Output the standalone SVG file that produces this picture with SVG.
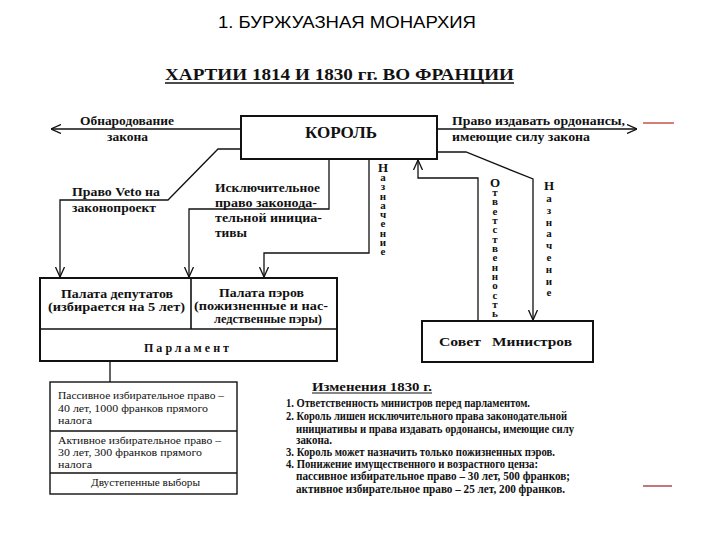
<svg xmlns="http://www.w3.org/2000/svg" width="720" height="540" viewBox="0 0 720 540">
<style>
.ln{fill:none;stroke:#111;stroke-width:1.3}
.bx{fill:#fff;stroke:#111;stroke-width:2}
.b{font-family:"Liberation Serif",serif;font-weight:bold;fill:#111}
.r{font-family:"Liberation Serif",serif;fill:#111}
.v{font-family:"Liberation Serif",serif;font-weight:bold;font-size:11px;fill:#111;text-anchor:middle}
</style>
<defs>
<marker id="ah" viewBox="0 0 10 10" refX="10" refY="5" markerWidth="10" markerHeight="10" markerUnits="userSpaceOnUse" orient="auto">
<polyline points="0,0.5 10,5 0,9.5" fill="none" stroke="#111" stroke-width="1.3"/>
</marker>
</defs>
<rect width="720" height="540" fill="#fff"/>
<text x="218" y="28" font-family="Liberation Sans, Arial, sans-serif" font-size="17" fill="#000" textLength="258" lengthAdjust="spacingAndGlyphs">1. БУРЖУАЗНАЯ МОНАРХИЯ</text>
<text class="b" x="165" y="80" font-size="17" textLength="349" lengthAdjust="spacingAndGlyphs">ХАРТИИ 1814 И 1830 гг. ВО ФРАНЦИИ</text>
<line x1="165" y1="83" x2="514" y2="83" stroke="#111" stroke-width="1.5"/>

<g id="connectors">
<line class="ln" x1="241" y1="129" x2="51" y2="129" marker-end="url(#ah)"/>
<line class="ln" x1="437" y1="129" x2="637" y2="129" marker-end="url(#ah)"/>
<polyline class="ln" points="241,149 218,149 168,200 60,200 60,277" marker-end="url(#ah)"/>
<polyline class="ln" points="329,159 329,209 189,209 189,277" marker-end="url(#ah)"/>
<polyline class="ln" points="369,159 369,253 264,253 264,277" marker-end="url(#ah)"/>
<polyline class="ln" points="437,152 466,152 533,179 533,320" marker-end="url(#ah)"/>
<polyline class="ln" points="478,321 478,178 418,178 418,160" marker-end="url(#ah)"/>
<line class="ln" x1="110" y1="382" x2="110" y2="330" marker-end="url(#ah)"/>
<line x1="643" y1="123" x2="674" y2="123" stroke="#c0392b" stroke-width="1.3"/>
<line x1="643" y1="486" x2="672" y2="486" stroke="#b5555a" stroke-width="1.6"/>
</g>

<g id="labels">
<text class="b" x="80" y="125" font-size="12" textLength="94" lengthAdjust="spacingAndGlyphs">Обнародование</text>
<text class="b" x="107" y="141" font-size="12" textLength="41" lengthAdjust="spacingAndGlyphs">закона</text>
<text class="b" x="452" y="125" font-size="12" textLength="173" lengthAdjust="spacingAndGlyphs">Право издавать ордонансы,</text>
<text class="b" x="452" y="141" font-size="12" textLength="138" lengthAdjust="spacingAndGlyphs">имеющие силу закона</text>
<text class="b" x="72" y="196" font-size="12" textLength="88" lengthAdjust="spacingAndGlyphs">Право Veto на</text>
<text class="b" x="72" y="212" font-size="12" textLength="84" lengthAdjust="spacingAndGlyphs">законопроект</text>
<text class="b" x="215" y="192" font-size="12" textLength="105" lengthAdjust="spacingAndGlyphs">Исключительное</text>
<text class="b" x="215" y="207" font-size="12" textLength="102" lengthAdjust="spacingAndGlyphs">право законода-</text>
<text class="b" x="215" y="222" font-size="12" textLength="107" lengthAdjust="spacingAndGlyphs">тельной инициа-</text>
<text class="b" x="215" y="237" font-size="12" textLength="32" lengthAdjust="spacingAndGlyphs">тивы</text>
<text class="v"><tspan x="383" y="172" font-size="13">Н</tspan><tspan x="383" y="181">а</tspan><tspan x="383" y="190">з</tspan><tspan x="383" y="200">н</tspan><tspan x="383" y="209">а</tspan><tspan x="383" y="218">ч</tspan><tspan x="383" y="227">е</tspan><tspan x="383" y="237">н</tspan><tspan x="383" y="246">и</tspan><tspan x="383" y="255">е</tspan></text>
<text class="v"><tspan x="495" y="187" font-size="13">О</tspan><tspan x="495" y="196">т</tspan><tspan x="495" y="205">в</tspan><tspan x="495" y="215">е</tspan><tspan x="495" y="224">т</tspan><tspan x="495" y="233">с</tspan><tspan x="495" y="243">т</tspan><tspan x="495" y="252">в</tspan><tspan x="495" y="261">е</tspan><tspan x="495" y="271">н</tspan><tspan x="495" y="280">н</tspan><tspan x="495" y="289">о</tspan><tspan x="495" y="299">с</tspan><tspan x="495" y="308">т</tspan><tspan x="495" y="317">ь</tspan></text>
<text class="v"><tspan x="549" y="190" font-size="13">Н</tspan><tspan x="549" y="202">а</tspan><tspan x="549" y="214">з</tspan><tspan x="549" y="226">н</tspan><tspan x="549" y="237">а</tspan><tspan x="549" y="249">ч</tspan><tspan x="549" y="261">е</tspan><tspan x="549" y="273">н</tspan><tspan x="549" y="285">и</tspan><tspan x="549" y="296">е</tspan></text>
</g>

<g id="king">
<rect class="bx" x="241" y="116" width="196" height="43"/>
<text class="b" x="305" y="138" font-size="16" textLength="72" lengthAdjust="spacingAndGlyphs">КОРОЛЬ</text>
</g>

<g id="parliament">
<rect class="bx" x="40" y="278" width="297" height="83" stroke-width="1.6"/>
<line x1="40" y1="329" x2="337" y2="329" stroke="#111" stroke-width="1.6"/>
<line x1="191" y1="278" x2="191" y2="329" stroke="#111" stroke-width="1.6"/>
<text class="b" x="144" y="352" font-size="12" textLength="85" lengthAdjust="spacing">Парламент</text>
</g>
<g id="deputies">
<text class="r" x="61" y="298" font-size="12.5" font-weight="bold" textLength="112" lengthAdjust="spacingAndGlyphs">Палата депутатов</text>
<text class="r" x="48" y="311" font-size="12.5" font-weight="bold" textLength="137" lengthAdjust="spacingAndGlyphs">(избирается на 5 лет)</text>
</g>
<g id="peers">
<text class="r" x="219" y="297" font-size="12.5" font-weight="bold" textLength="85" lengthAdjust="spacingAndGlyphs">Палата пэров</text>
<text class="r" x="194" y="310" font-size="12.5" font-weight="bold" textLength="134" lengthAdjust="spacingAndGlyphs">(пожизненные и нас-</text>
<text class="r" x="214" y="323" font-size="12.5" font-weight="bold" textLength="108" lengthAdjust="spacingAndGlyphs">ледственные пэры)</text>
</g>

<g id="ministers">
<rect class="bx" x="422" y="321" width="171" height="41" stroke-width="1.6"/>
<text class="b" x="439" y="346" font-size="12.5" textLength="42" lengthAdjust="spacingAndGlyphs">Совет</text>
<text class="b" x="492" y="346" font-size="12.5" textLength="80" lengthAdjust="spacingAndGlyphs">Министров</text>
</g>

<g id="electoral">
<rect x="50" y="382" width="187" height="112" fill="#fff" stroke="#111" stroke-width="1.4"/>
<line x1="50" y1="431" x2="237" y2="431" stroke="#111" stroke-width="1.4"/>
<line x1="50" y1="473" x2="237" y2="473" stroke="#111" stroke-width="1.4"/>
<text class="r" x="58" y="399" font-size="10.5" textLength="166" lengthAdjust="spacingAndGlyphs">Пассивное избирательное право –</text>
<text class="r" x="58" y="411.5" font-size="10.5" textLength="150" lengthAdjust="spacingAndGlyphs">40 лет, 1000 франков прямого</text>
<text class="r" x="58" y="424" font-size="10.5" textLength="34" lengthAdjust="spacingAndGlyphs">налога</text>
<text class="r" x="58" y="444" font-size="10.5" textLength="163" lengthAdjust="spacingAndGlyphs">Активное избирательное право –</text>
<text class="r" x="58" y="456" font-size="10.5" textLength="144" lengthAdjust="spacingAndGlyphs">30 лет, 300 франков прямого</text>
<text class="r" x="58" y="468" font-size="10.5" textLength="34" lengthAdjust="spacingAndGlyphs">налога</text>
<text class="r" x="91" y="486" font-size="11" textLength="109" lengthAdjust="spacingAndGlyphs">Двустепенные выборы</text>
</g>

<g id="changes">
<text class="b" x="312" y="391" font-size="12.5" textLength="120" lengthAdjust="spacingAndGlyphs">Изменения 1830 г.</text>
<line x1="312" y1="393" x2="432" y2="393" stroke="#111" stroke-width="1.2"/>
<text class="r" font-size="11.5" font-weight="bold">
<tspan x="286" y="407" textLength="244" lengthAdjust="spacingAndGlyphs">1. Ответственность министров перед парламентом.</tspan>
<tspan x="286" y="420" textLength="281" lengthAdjust="spacingAndGlyphs">2. Король лишен исключительного права законодательной</tspan>
<tspan x="296" y="433" textLength="278" lengthAdjust="spacingAndGlyphs">инициативы и права издавать ордонансы, имеющие силу</tspan>
<tspan x="296" y="444" textLength="36" lengthAdjust="spacingAndGlyphs">закона.</tspan>
<tspan x="286" y="456" textLength="269" lengthAdjust="spacingAndGlyphs">3. Король может назначить только пожизненных пэров.</tspan>
<tspan x="286" y="468" textLength="252" lengthAdjust="spacingAndGlyphs">4. Понижение имущественного и возрастного ценза:</tspan>
<tspan x="296" y="480" textLength="274" lengthAdjust="spacingAndGlyphs">пассивное избирательное право – 30 лет, 500 франков;</tspan>
<tspan x="296" y="493" textLength="269" lengthAdjust="spacingAndGlyphs">активное избирательное право – 25 лет, 200 франков.</tspan>
</text>
</g>
</svg>
